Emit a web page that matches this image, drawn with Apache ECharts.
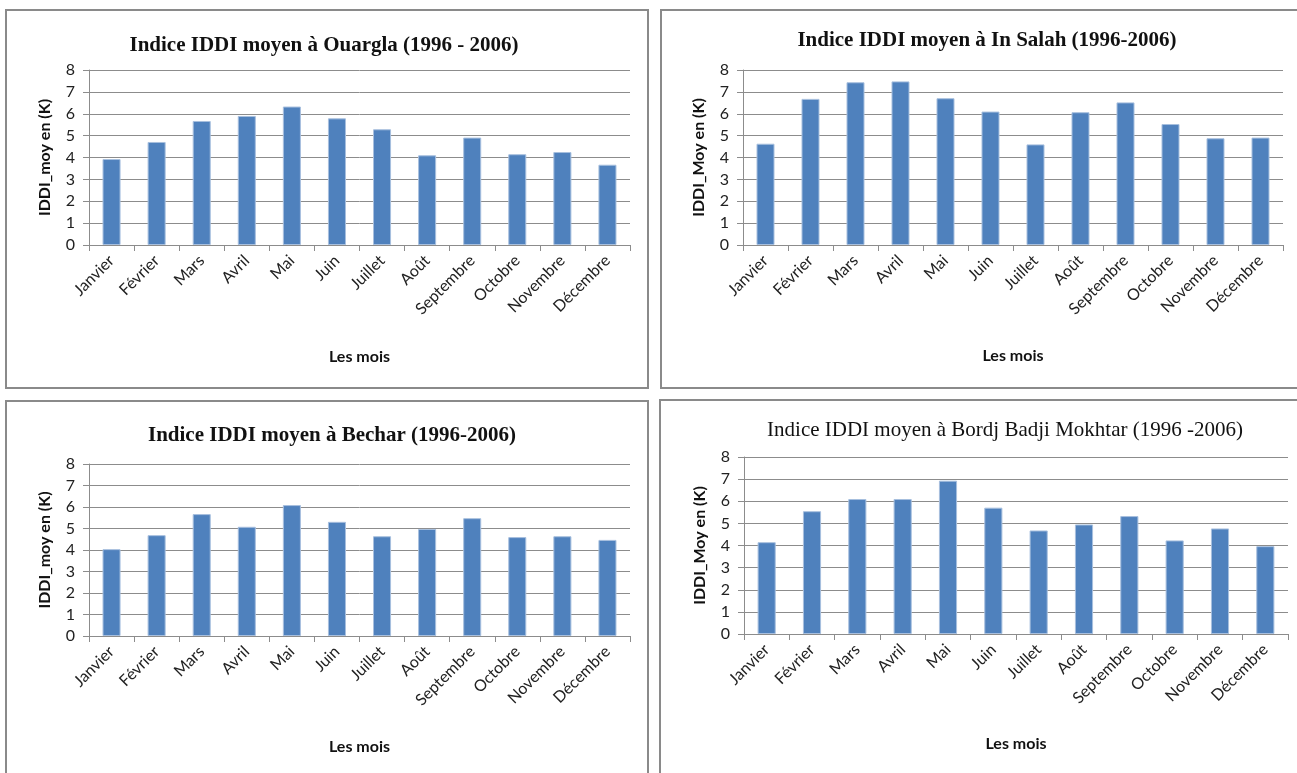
<!DOCTYPE html>
<html>
<head>
<meta charset="utf-8">
<script src="https://cdn.jsdelivr.net/npm/echarts@6/dist/echarts.min.js"></script>
<style>
html,body{margin:0;padding:0;background:#fff;}
#c{width:1297px;height:773px;}
</style>
</head>
<body>
<div id="c"></div>
<script>
var months = ['Janvier','Février','Mars','Avril','Mai','Juin','Juillet','Août','Septembre','Octobre','Novembre','Décembre'];
var yTicks = [0,1,2,3,4,5,6,7,8];
var ouargla = [3.93,4.71,5.67,5.90,6.33,5.79,5.29,4.10,4.91,4.15,4.25,3.67];
var inSalah = [4.63,6.68,7.44,7.48,6.71,6.10,4.60,6.07,6.52,5.53,4.88,4.91];
var bechar = [4.04,4.69,5.67,5.08,6.09,5.31,4.64,4.98,5.48,4.60,4.64,4.47];
var bordj = [4.15,5.55,6.10,6.10,6.93,5.71,4.68,4.95,5.33,4.23,4.77,3.97];
var titles = ['Indice IDDI moyen à Ouargla (1996 - 2006)','Indice IDDI moyen à In Salah (1996-2006)','Indice IDDI moyen à Bechar (1996-2006)','Indice IDDI moyen à Bordj Badji Mokhtar (1996 -2006)'];
var yNames = ['IDDI_moy en (K)','IDDI_Moy en (K)','IDDI_moy en (K)','IDDI_Moy en (K)'];
var xName = 'Les mois';

var series = [ouargla, inSalah, bechar, bordj];
var grids = [
  {left:89, top:70, width:541, height:175},
  {left:743, top:70, width:540, height:175},
  {left:89, top:464, width:541, height:172},
  {left:744, top:457, width:544, height:177}
];
var titlePos = [
  {x:319, y:30, w:'bold', s:21},
  {x:982, y:25, w:'bold', s:21},
  {x:327, y:420, w:'bold', s:21},
  {x:1000, y:415, w:'normal', s:21}
];
var xNameGap = [104, 103, 103, 102];
var panels = [
  {x:6, y:10, w:642, h:378},
  {x:661, y:10, w:650, h:378},
  {x:6, y:401, w:642, h:390},
  {x:660, y:400, w:650, h:390}
];
var axisFont = 'Lato, "Open Sans", sans-serif';
var gray = '#8c8c8c';

var option = {
  backgroundColor:'#fff',
  animation:false,
  title: titles.map(function(t,i){
    return {text:t, left:titlePos[i].x, top:titlePos[i].y, textAlign:'center',
      textStyle:{fontFamily:'"Liberation Serif", serif', fontWeight:titlePos[i].w, fontSize:titlePos[i].s, color:'#111'}};
  }),
  graphic: panels.map(function(p){
    return {type:'rect', shape:{x:p.x, y:p.y, width:p.w, height:p.h}, style:{fill:'none', stroke:'#8a8a8a', lineWidth:2}, z:-1};
  }),
  grid: grids,
  xAxis: grids.map(function(g,i){
    return {type:'category', gridIndex:i, data:months,
      name:xName, nameLocation:'middle', nameGap:xNameGap[i],
      nameTextStyle:{fontFamily:axisFont, fontWeight:'bold', fontSize:16, color:'#111'},
      axisLine:{lineStyle:{color:gray, width:1}},
      axisTick:{show:true, length:6, interval:0, lineStyle:{color:gray}},
      axisLabel:{rotate:45, interval:0, fontFamily:axisFont, fontSize:16, color:'#222', margin:13}};
  }),
  yAxis: grids.map(function(g,i){
    return {type:'value', gridIndex:i, min:0, max:8, interval:1,
      name:yNames[i], nameLocation:'middle', nameRotate:90, nameGap:36,
      nameTextStyle:{fontFamily:axisFont, fontWeight:'bold', fontSize:16, color:'#111'},
      axisLine:{show:true, lineStyle:{color:gray, width:1}},
      axisTick:{show:true, length:6, lineStyle:{color:gray}},
      splitLine:{show:true, lineStyle:{color:gray, width:1}},
      axisLabel:{fontFamily:axisFont, fontSize:16, color:'#222', margin:14,
        formatter:function(v){return yTicks.indexOf(v)>=0 ? String(v) : '';}}};
  }),
  series: series.map(function(d,i){
    return {type:'bar', xAxisIndex:i, yAxisIndex:i, data:d, barCategoryGap:'60%',
      itemStyle:{color:'#4F81BD', borderColor:'#A7BFDE', borderWidth:1}};
  })
};
var chart = echarts.init(document.getElementById('c'));
chart.setOption(option);
</script>
</body>
</html>
